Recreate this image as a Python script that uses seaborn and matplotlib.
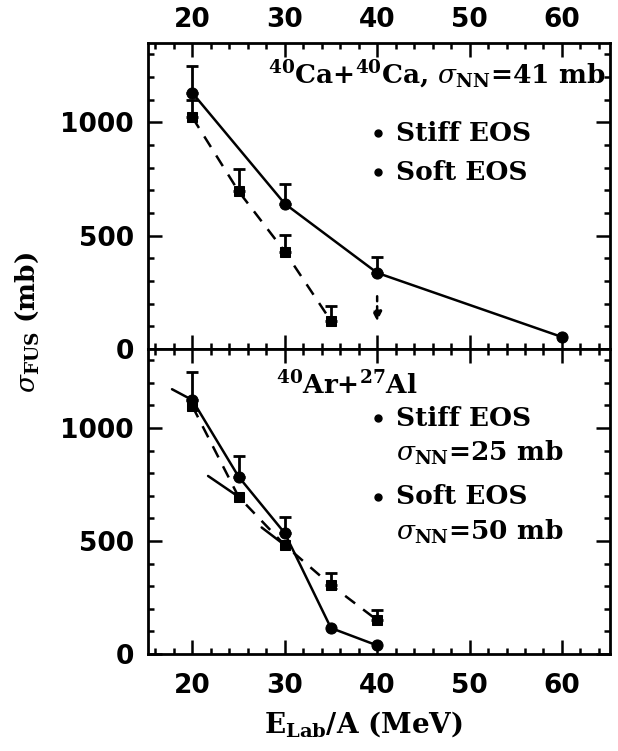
import matplotlib
matplotlib.use("Agg")
import matplotlib.pyplot as plt
import seaborn as sns
import numpy as np
import pandas as pd

# ---- data ----
# upper panel: 40Ca+40Ca
ca_stiff_x = [20, 30, 40, 60]
ca_stiff_y = [1130, 641, 336, 53]
ca_stiff_err = [118, 89, 71, 0]
ca_soft_x = [20, 25, 30, 35]
ca_soft_y = [1022, 696, 430, 124]
ca_soft_err = [75, 96, 74, 66]
ca_limit_x = [40]
ca_limit_y = [245]
ca_limit_to = [110]

# lower panel: 40Ar+27Al
ar_stiff_x = [20, 25, 30, 35, 40]
ar_stiff_y = [1124, 785, 535, 115, 38]
ar_stiff_err = [124, 91, 71, 0, 0]
ar_soft_x = [20, 25, 30, 35, 40]
ar_soft_y = [1097, 696, 482, 305, 150]
ar_soft_err = [0, 0, 0, 53, 45]
tail_x0 = [17.8, 21.7, 27.5]
tail_y0 = [1172, 788, 560]
tail_x1 = [20, 25, 30]
tail_y1 = [1124, 696, 482]

xticks = [20, 30, 40, 50, 60]
yticks = [0, 500, 1000]

sns.set_style("ticks")
plt.rcParams['font.family'] = ['DejaVu Sans']
plt.rcParams['mathtext.fontset'] = 'dejavuserif'
plt.rcParams['text.color'] = 'black'
plt.rcParams['xtick.color'] = 'black'
plt.rcParams['ytick.color'] = 'black'
plt.rcParams['axes.edgecolor'] = 'black'

fig = plt.figure(figsize=(6.18, 7.51), dpi=100)
L, R = 148/618, 610/618
top = 1 - 43/751
mid = 1 - 349/751
bot = 1 - 654/751
ax1 = fig.add_axes([L, mid, R - L, top - mid])
ax2 = fig.add_axes([L, bot, R - L, mid - bot], sharex=ax1)

FS = 19
serif = dict(family='DejaVu Serif', fontweight='bold', color='black')


def panel(ax, sx, sy, se, fx, fy, fe):
    d1 = pd.DataFrame({'x': sx, 'y': sy})
    d2 = pd.DataFrame({'x': fx, 'y': fy})
    sns.lineplot(data=d1, x='x', y='y', ax=ax, color='black', lw=1.8,
                 marker='o', markersize=8, markeredgecolor='black')
    sns.lineplot(data=d2, x='x', y='y', ax=ax, color='black', lw=1.8,
                 linestyle=(0, (5, 4)), marker='s', markersize=7,
                 markeredgecolor='black')
    for xs, ys, es in ((sx, sy, se), (fx, fy, fe)):
        xs2 = [a for a, e in zip(xs, es) if e > 0]
        ys2 = [b for b, e in zip(ys, es) if e > 0]
        es2 = [e for e in es if e > 0]
        ax.errorbar(xs2, ys2, yerr=[np.zeros(len(es2)), es2], fmt='none',
                    ecolor='black', elinewidth=2, capsize=4, capthick=2)


panel(ax1, ca_stiff_x, ca_stiff_y, ca_stiff_err, ca_soft_x, ca_soft_y, ca_soft_err)
panel(ax2, ar_stiff_x, ar_stiff_y, ar_stiff_err, ar_soft_x, ar_soft_y, ar_soft_err)

for x, y0, y1 in zip(ca_limit_x, ca_limit_y, ca_limit_to):
    ax1.annotate('', xy=(x, y1), xytext=(x, y0),
                 arrowprops=dict(arrowstyle='-|>', color='black', lw=1.8,
                                 linestyle=(0, (2, 2)), mutation_scale=14))

for a, b, c, d in zip(tail_x0, tail_y0, tail_x1, tail_y1):
    ax2.plot([a, c], [b, d], color='black', lw=1.8)

for ax in (ax1, ax2):
    ax.set_xlim(15.2, 65.2)
    ax.set_ylim(0, 1350)
    ax.set_xticks(xticks)
    ax.set_yticks(yticks)
    ax.set_xticks(np.arange(16, 66, 2), minor=True)
    ax.set_yticks(np.arange(0, 1351, 100), minor=True)
    ax.tick_params(which='both', direction='in', top=True, right=True,
                   width=1.8, labelsize=FS)
    ax.tick_params(which='major', length=10)
    ax.tick_params(which='minor', length=4)
    ax.tick_params(axis='y', pad=10)
    ax.set_xlabel('')
    ax.set_ylabel('')
    for s in ax.spines.values():
        s.set_linewidth(2)

ax1.tick_params(axis='x', labelbottom=False, labeltop=True, pad=7)
ax2.tick_params(axis='x', labelbottom=True, labeltop=False, pad=14)
for ax in (ax1, ax2):
    for lab in ax.get_xticklabels() + ax.get_yticklabels():
        lab.set_fontweight('bold')

# texts upper
ax1.text(64.7, 1208, r'$^{\mathbf{40}}$Ca+$^{\mathbf{40}}$Ca, $\sigma_{\mathbf{NN}}$=41 mb',
         ha='right', va='center', fontsize=FS, **serif)
ax1.plot([40.1], [951], 'o', color='black', ms=5)
ax1.plot([40.1], [779], 'o', color='black', ms=5)
ax1.text(42.0, 951, 'Stiff EOS', ha='left', va='center', fontsize=FS, **serif)
ax1.text(42.0, 779, 'Soft EOS', ha='left', va='center', fontsize=FS, **serif)

# texts lower
ax2.text(29.0, 1190, r'$^{\mathbf{40}}$Ar+$^{\mathbf{27}}$Al', ha='left', va='center',
         fontsize=FS, **serif)
ax2.plot([40.1], [1044], 'o', color='black', ms=5)
ax2.plot([40.1], [695], 'o', color='black', ms=5)
ax2.text(42.0, 1044, 'Stiff EOS', ha='left', va='center', fontsize=FS, **serif)
ax2.text(42.0, 890, r'$\sigma_{\mathbf{NN}}$=25 mb', ha='left', va='center', fontsize=FS, **serif)
ax2.text(42.0, 695, 'Soft EOS', ha='left', va='center', fontsize=FS, **serif)
ax2.text(42.0, 540, r'$\sigma_{\mathbf{NN}}$=50 mb', ha='left', va='center', fontsize=FS, **serif)

fig.text(27/618, 1 - 322/751, r'$\sigma_{\mathbf{FUS}}$ (mb)', rotation=90,
         ha='center', va='center', fontsize=FS, **serif)
fig.text(363/618, 1 - 724/751, r'E$_{\mathbf{Lab}}$/A (MeV)', ha='center',
         va='center', fontsize=FS + 1, **serif)

fig.savefig('out.png', dpi=100, facecolor='white')
